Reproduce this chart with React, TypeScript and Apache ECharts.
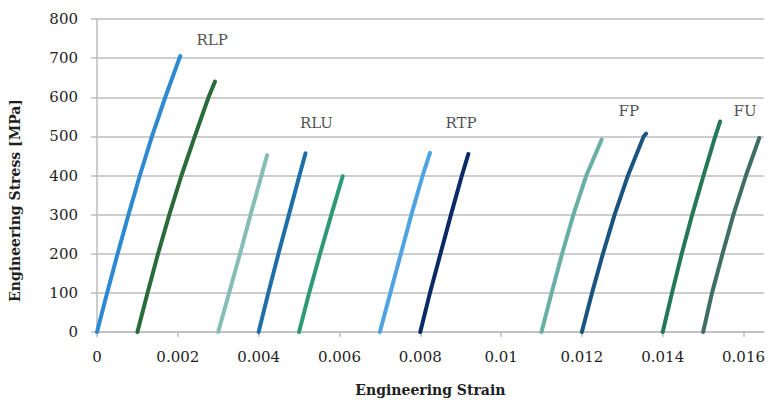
import React, { useEffect, useRef } from "react";
import * as echarts from "echarts";

// Series names (legend-less), colours and values
const seriesNames = ["RLP-1", "RLP-2", "RLU-1", "RLU-2", "RLU-3", "RTP-1", "RTP-2", "FP-1", "FP-2", "FU-1", "FU-2"];
const seriesColors = ["#2C89D2", "#2A6B3B", "#86BEB5", "#1F6EA8", "#309A78", "#4FA3E3", "#0A2A66", "#6AAFA5", "#1A5580", "#247858", "#3F6E66"];

// strain values in units of 1e-3
const rlp1Strain = [0, 0.25, 0.51, 0.78, 1.06, 1.36, 1.69, 2.04, 2.06];
const rlp1Stress = [0, 100, 200, 300, 400, 500, 600, 700, 705];
const rlp2Strain = [1.0, 1.25, 1.51, 1.79, 2.09, 2.42, 2.76, 2.92];
const rlp2Stress = [0, 100, 200, 300, 400, 500, 600, 640];
const rlu1Strain = [3.0, 3.27, 3.54, 3.80, 4.07, 4.21];
const rlu1Stress = [0, 100, 200, 300, 400, 452];
const rlu2Strain = [4.0, 4.24, 4.49, 4.75, 5.01, 5.16];
const rlu2Stress = [0, 100, 200, 300, 400, 457];
const rlu3Strain = [5.0, 5.25, 5.52, 5.80, 6.08];
const rlu3Stress = [0, 100, 200, 300, 398];
const rtp1Strain = [7.0, 7.26, 7.52, 7.78, 8.06, 8.24];
const rtp1Stress = [0, 100, 200, 300, 400, 458];
const rtp2Strain = [8.0, 8.24, 8.50, 8.76, 9.03, 9.19];
const rtp2Stress = [0, 100, 200, 300, 400, 455];
const fp1Strain = [11.0, 11.25, 11.51, 11.79, 12.11, 12.49];
const fp1Stress = [0, 100, 200, 300, 400, 492];
const fp2Strain = [12.0, 12.25, 12.52, 12.81, 13.14, 13.53, 13.59];
const fp2Stress = [0, 100, 200, 300, 400, 500, 507];
const fu1Strain = [14.0, 14.23, 14.47, 14.73, 15.01, 15.30, 15.42];
const fu1Stress = [0, 100, 200, 300, 400, 500, 538];
const fu2Strain = [15.0, 15.22, 15.48, 15.75, 16.06, 16.39];
const fu2Stress = [0, 100, 200, 300, 400, 496];

const strainSets = [rlp1Strain, rlp2Strain, rlu1Strain, rlu2Strain, rlu3Strain, rtp1Strain, rtp2Strain, fp1Strain, fp2Strain, fu1Strain, fu2Strain];
const stressSets = [rlp1Stress, rlp2Stress, rlu1Stress, rlu2Stress, rlu3Stress, rtp1Stress, rtp2Stress, fp1Stress, fp2Stress, fu1Stress, fu2Stress];

// group annotations
const annotationNames = ["RLP", "RLU", "RTP", "FP", "FU"];
const annotationStrain = [2.85, 5.43, 9.01, 13.16, 16.04];
const annotationStress = [746, 535, 535, 566, 565];

const FONT = "DejaVu Serif";
const TEXT = "#1e1e1e";
const GRID = "#BDBDBD";

export default function App() {
  const ref = useRef<HTMLDivElement>(null);
  useEffect(() => {
    if (!ref.current) return;
    const chart = echarts.init(ref.current, undefined, { renderer: "svg" });
    const lineSeries = seriesNames.map((name, i) => ({
      name,
      type: "line",
      showSymbol: false,
      symbol: "none",
      smooth: false,
      lineStyle: { color: seriesColors[i], width: 4, cap: "round", join: "round" },
      itemStyle: { color: seriesColors[i] },
      data: strainSets[i].map((s, k) => [s / 1000, stressSets[i][k]]),
      z: 3,
    }));
    const annot = {
      name: "labels",
      type: "scatter",
      symbolSize: 1,
      itemStyle: { color: "rgba(0,0,0,0)" },
      label: {
        show: true,
        position: "inside",
        formatter: (p: any) => p.data[2],
        fontFamily: FONT,
        fontSize: 15,
        color: TEXT,
      },
      data: annotationNames.map((n, i) => [annotationStrain[i] / 1000, annotationStress[i], n]),
      z: 5,
    };
    chart.setOption({
      animation: false,
      backgroundColor: "#ffffff",
      textStyle: { fontFamily: FONT },
      grid: { left: 97, right: 2.5, top: 19, bottom: 68.7, containLabel: false },
      xAxis: {
        type: "value",
        min: 0,
        max: 0.0165,
        interval: 0.002,
        name: "Engineering Strain",
        nameLocation: "middle",
        nameGap: 51,
        nameTextStyle: { fontFamily: FONT, fontSize: 14, fontWeight: "bold", color: TEXT },
        axisLine: { show: true, lineStyle: { color: GRID, width: 1.5 } },
        axisTick: { show: true, length: 5, lineStyle: { color: GRID, width: 1.5 } },
        splitLine: { show: false },
        axisLabel: {
          fontFamily: FONT,
          fontSize: 15,
          color: TEXT,
          margin: 17,
          formatter: (v: number) => String(parseFloat(v.toFixed(4))),
        },
      },
      yAxis: {
        type: "value",
        min: 0,
        max: 800,
        interval: 100,
        name: "Engineering Stress [MPa]",
        nameLocation: "middle",
        nameGap: 75,
        nameTextStyle: { fontFamily: FONT, fontSize: 14, fontWeight: "bold", color: TEXT, padding: [0, 50, 0, 0] },
        axisLine: { show: true, lineStyle: { color: GRID, width: 1.5 } },
        axisTick: { show: true, length: 6, lineStyle: { color: GRID, width: 1.5 } },
        splitLine: { show: true, lineStyle: { color: GRID, width: 1.5 } },
        axisLabel: { fontFamily: FONT, fontSize: 15, color: TEXT, margin: 19 },
      },
      tooltip: { show: false },
      series: [...lineSeries, annot],
    });
    return () => chart.dispose();
  }, []);
  return <div ref={ref} style={{ width: 768, height: 402, position: "absolute", left: 0, top: 0 }} />;
}
